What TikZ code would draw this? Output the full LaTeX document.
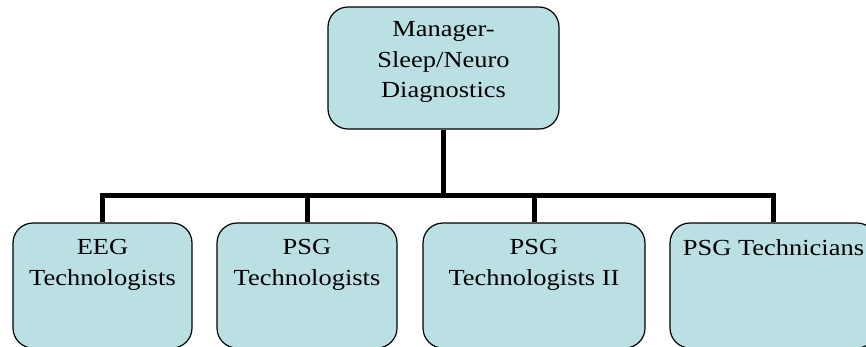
\documentclass[tikz,border=0pt]{standalone}
\usepackage{fontspec}
\setmainfont[FakeStretch=1.15]{Liberation Serif}
\definecolor{unitfill}{RGB}{187,224,228}
\tikzstyle{unit}=[draw, fill=unitfill, rounded corners=20pt, line width=1.2pt, inner sep=0]
\tikzstyle{unit text}=[anchor=north, align=center, inner sep=0, font=\fontsize{23}{30.5}\selectfont]
\tikzstyle{link}=[line width=5pt, line join=miter]

\begin{document}
\begin{tikzpicture}[x=1pt, y=1pt]
      \useasboundingbox (0,0) rectangle (866,-346);
      \clip (0,0) rectangle (866,-346);

      \node[unit, minimum width=231pt, minimum height=122pt] (manager) at (443.5, -68) {};
      \node[unit text] (manager text) at ([yshift=-15pt]manager.north) {Manager-\\Sleep/Neuro\\Diagnostics};

      \node[unit, minimum width=179pt, minimum height=125pt] (eeg) at (102.5, -285.5) {};
      \node[unit, minimum width=180pt, minimum height=125pt] (psg) at (307, -285.5) {};
      \node[unit, minimum width=222pt, minimum height=125pt] (psg2) at (534, -285.5) {};
      \node[unit, minimum width=207pt, minimum height=125pt] (techs) at (773.5, -285.5) {};

      \node[unit text] (eeg text) at ([yshift=-16.8pt]eeg.north) {EEG\\Technologists};
      \node[unit text] (psg text) at ([yshift=-16.8pt]psg.north) {PSG\\Technologists};
      \node[unit text] (psg2 text) at ([yshift=-16.8pt]psg2.north) {PSG\\Technologists II};
      \node[unit text] (techs text) at ([yshift=-16.8pt]techs.north) {PSG Technicians};

      \coordinate (bus) at (443.5, -195.5);
      \draw[link] (manager.south) to (bus);
      \foreach \staff in {eeg, psg, psg2, techs}
        \draw[link] (\staff.north) |- (bus);
    \end{tikzpicture}
\end{document}
